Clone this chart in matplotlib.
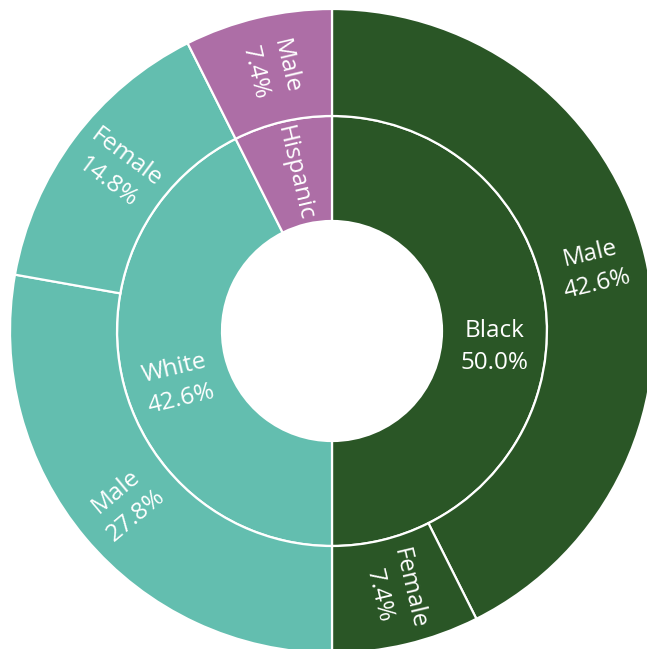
import matplotlib
matplotlib.use('Agg')
import matplotlib.pyplot as plt
from matplotlib.patches import Wedge
import numpy as np

# inner ring
groups = ['Black', 'White', 'Hispanic']
group_pct = [50.0, 42.6, 7.4]

# outer ring
sub_labels = ['Male', 'Female', 'Male', 'Female', 'Male']
sub_parents = ['Black', 'Black', 'White', 'White', 'Hispanic']
sub_pct = [42.6, 7.4, 27.8, 14.8, 7.4]

colors = {'Black': '#2a5626', 'White': '#63beaf', 'Hispanic': '#ad6ea6'}

W, H = 647, 649
cx, cy = 332, H - 331
r_hole, r_mid, r_out = 110, 215, 322

plt.rcParams['font.family'] = ['Open Sans', 'DejaVu Sans']

fig = plt.figure(figsize=(W / 100, H / 100), dpi=100)
ax = fig.add_axes([0, 0, 1, 1])
ax.set_xlim(0, W)
ax.set_ylim(0, H)
ax.set_aspect('equal')
ax.axis('off')


def radial_rot(a):
    rot = (a + 180) % 360 - 180
    if rot > 90:
        rot -= 180
    elif rot < -90:
        rot += 180
    return rot


def draw_ring(labels, pcts, parents, r0, r1, multi_shift):
    start = 0.0
    for lab, p, par in zip(labels, pcts, parents):
        t0 = start * 3.6
        t1 = (start + p) * 3.6
        w = Wedge((cx, cy), r1, 90 - t1, 90 - t0, width=r1 - r0,
                  facecolor=colors[par], edgecolor='white', linewidth=1.6)
        ax.add_patch(w)
        a = 90 - (t0 + t1) / 2
        rm = (r0 + r1) / 2
        x = cx + rm * np.cos(np.radians(a))
        y = cy + rm * np.sin(np.radians(a))
        rot = radial_rot(a)
        # inner multi-line labels are centred on their first line
        if p >= 10 and multi_shift:
            x += multi_shift * np.sin(np.radians(rot))
            y -= multi_shift * np.cos(np.radians(rot))
        if p >= 10 or r0 >= r_mid:
            txt = f"{lab}\n{p:.1f}%"
        else:
            txt = lab
        ax.text(x, y, txt, color='white', fontsize=17.5,
                rotation=rot, rotation_mode='anchor', ha='center', va='center',
                linespacing=1.4, multialignment='center')
        start += p


draw_ring(groups, group_pct, groups, r_hole, r_mid, 16)
draw_ring(sub_labels, sub_pct, sub_parents, r_mid, r_out, 0)

plt.savefig('out.png', dpi=100)
